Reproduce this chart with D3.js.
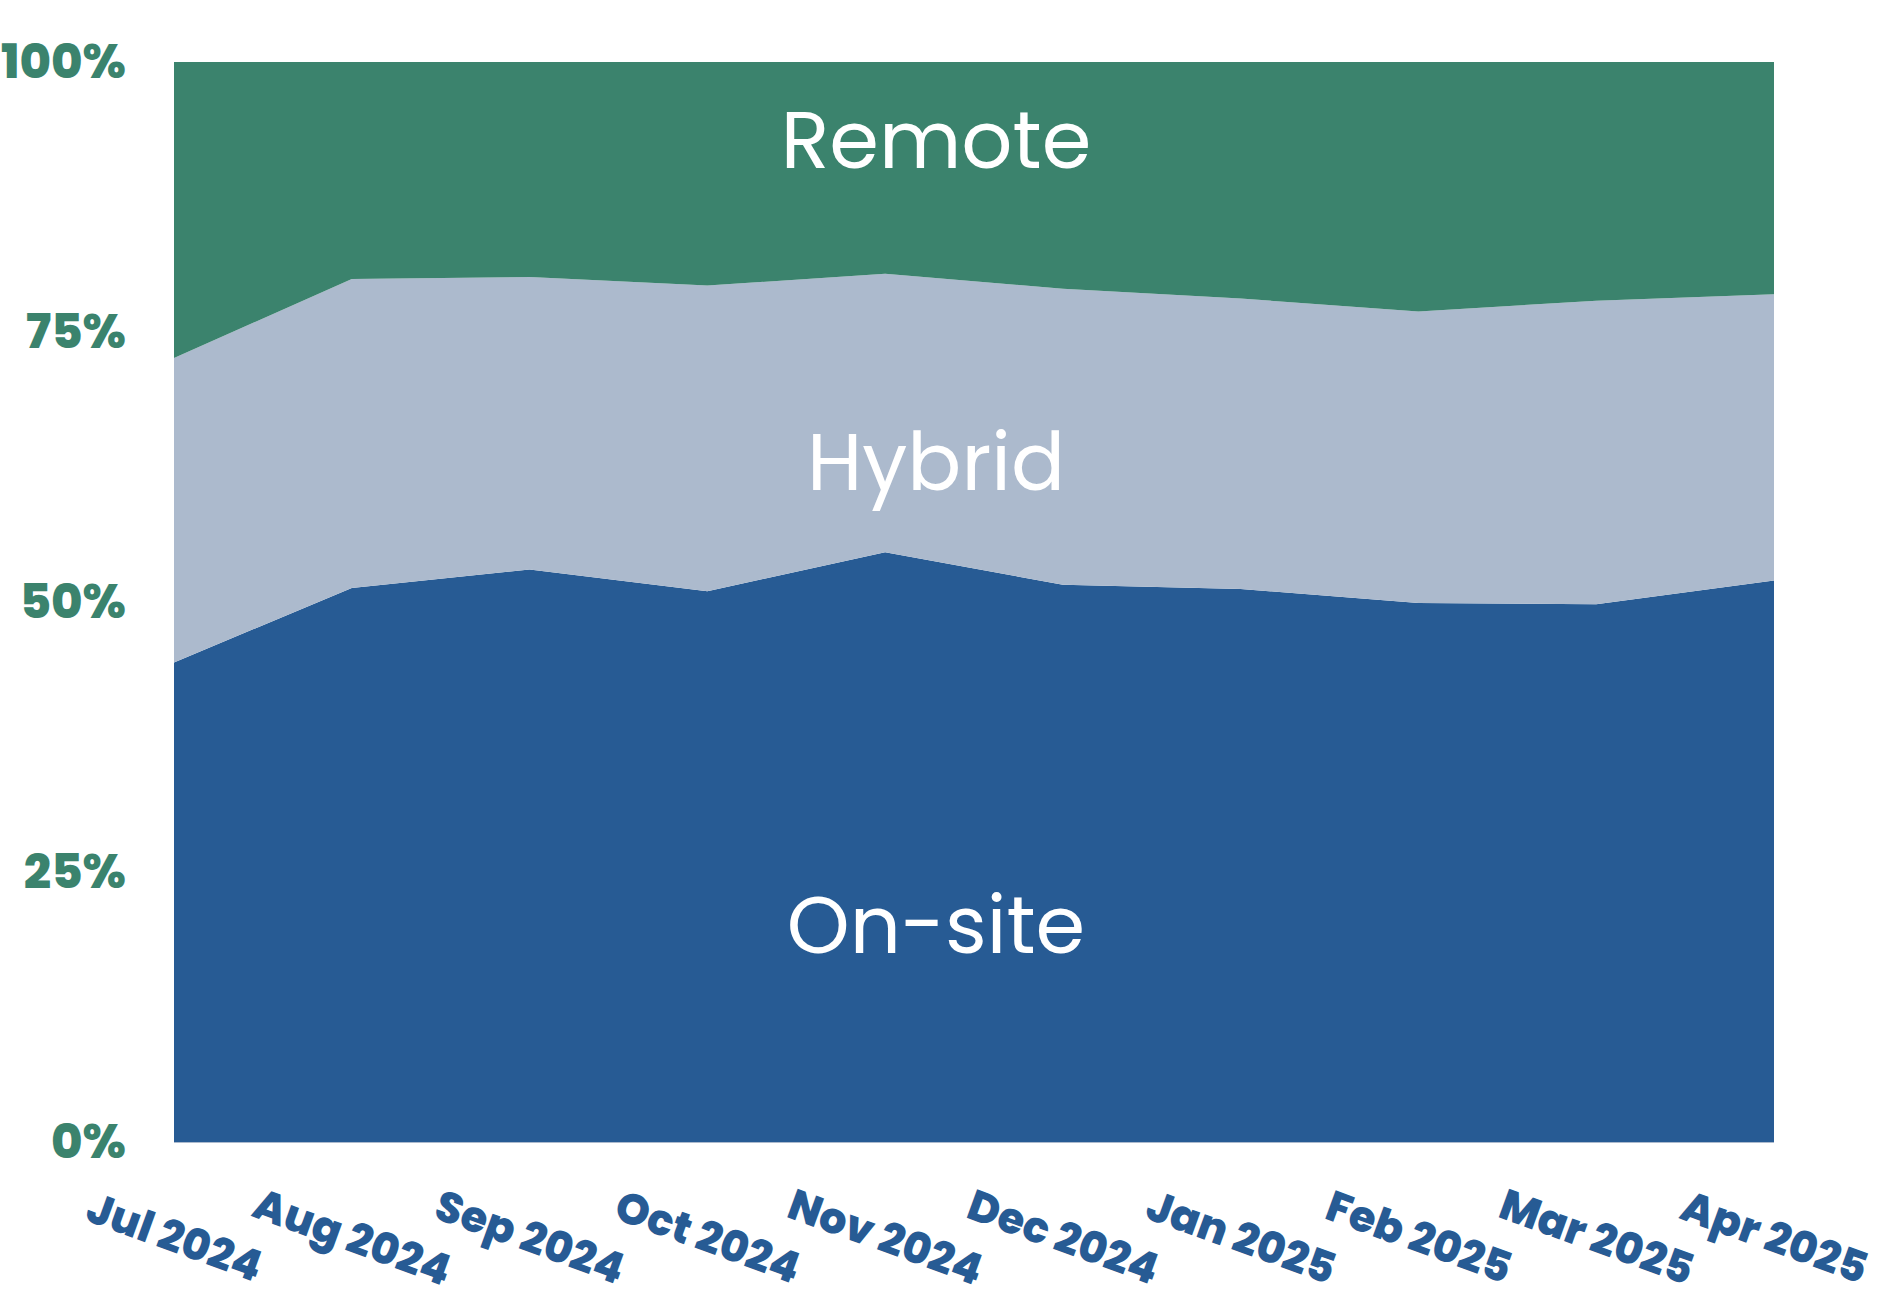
<!DOCTYPE html>
<html>
<head>
<meta charset="utf-8">
<script src="https://cdn.jsdelivr.net/npm/d3@7"></script>
<style>
  body { margin: 0; background: #fff; }
  .axis text { font-family: "Poppins", "Inter", sans-serif; font-weight: 800; }
  .lbl { font-family: "Poppins", "Inter", sans-serif; font-weight: 400; fill: #fff; }
</style>
</head>
<body>
<script>
var months = ["Jul 2024","Aug 2024","Sep 2024","Oct 2024","Nov 2024","Dec 2024","Jan 2025","Feb 2025","Mar 2025","Apr 2025"];
var onsite = [44.4, 51.3, 53.0, 51.0, 54.6, 51.6, 51.2, 49.9, 49.8, 52.0];
var hybrid = [28.2, 28.6, 27.1, 28.3, 25.8, 27.4, 26.9, 27.0, 28.1, 26.5];
var remote = [27.4, 20.1, 19.9, 20.7, 19.6, 21.0, 21.9, 23.1, 22.1, 21.5];
var keys = ["On-site", "Hybrid", "Remote"];
var yTicks = [0, 25, 50, 75, 100];

var colors = {"On-site": "#275b94", "Hybrid": "#acbacd", "Remote": "#3b836d"};

var margin = {top: 62, right: 108, bottom: 158, left: 174}
, width = 1882 - margin.left - margin.right
, height = 1300 - margin.top - margin.bottom;

var rows = months.map(function(m, i) {
  return {month: m, "On-site": onsite[i], "Hybrid": hybrid[i], "Remote": remote[i]};
});

var series = d3.stack().keys(keys)(rows);

var x = d3.scalePoint()
    .domain(months)
    .range([0, width]);

var y = d3.scaleLinear()
    .domain([0, 100])
    .range([height, 0]);

var chart = d3.select('body')
    .append('svg')
    .attr('width', 1882)
    .attr('height', 1300);

var main = chart.append('g')
    .attr('transform', 'translate(' + margin.left + ',' + margin.top + ')');

var area = d3.area()
    .x(function(d) { return x(d.data.month); })
    .y0(function(d) { return y(d[0]); })
    .y1(function(d) { return y(d[1]); });

main.selectAll('path.layer')
    .data(series)
    .enter().append('path')
    .attr('class', 'layer')
    .attr('fill', function(d) { return colors[d.key]; })
    .attr('d', area);

// bottom edge
main.append('line')
    .attr('x1', 0).attr('x2', width)
    .attr('y1', height + 0.5).attr('y2', height + 0.5)
    .attr('stroke', '#acbacd').attr('stroke-width', 1);

// in-area labels
var labelPos = [
  {text: "Remote", v: 90.2},
  {text: "Hybrid", v: 60.4},
  {text: "On-site", v: 17.5}
];
main.selectAll('text.lbl')
    .data(labelPos)
    .enter().append('text')
    .attr('class', 'lbl')
    .attr('x', 762)
    .attr('y', function(d) { return y(d.v); })
    .attr('text-anchor', 'middle')
    .style('font-size', '80px')
    .text(function(d) { return d.text; });

var yAxis = d3.axisLeft(y)
    .tickValues(yTicks)
    .tickSize(0)
    .tickPadding(48)
    .tickFormat(function(d) { return d + '%'; });

var gy = main.append('g').attr('class', 'axis').call(yAxis);
gy.select('.domain').remove();
gy.selectAll('text')
    .attr('fill', '#3b836d')
    .style('font-size', '48px');

var xAxis = d3.axisBottom(x).tickSize(0);
var gx = main.append('g')
    .attr('class', 'axis')
    .attr('transform', 'translate(0,' + height + ')')
    .call(xAxis);
gx.select('.domain').remove();
gx.selectAll('text')
    .attr('y', 0)
    .attr('dy', '0.35em')
    .attr('text-anchor', 'middle')
    .attr('transform', 'translate(0,95) rotate(20)')
    .attr('fill', '#275b94')
    .style('font-size', '43px');
</script>
</body>
</html>
